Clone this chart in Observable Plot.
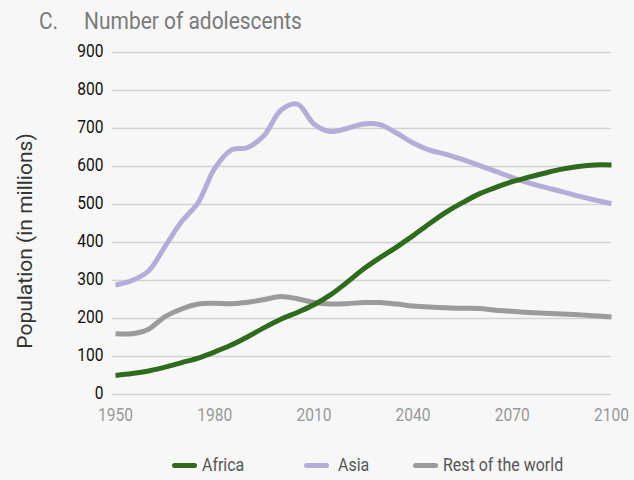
<!DOCTYPE html>
<html>
<head>
<meta charset="utf-8">
<script src="https://cdn.jsdelivr.net/npm/d3@7"></script>
<script src="https://cdn.jsdelivr.net/npm/@observablehq/plot@0.6"></script>
<style>
  html, body { margin: 0; padding: 0; background: #f7f7f7; }
  #wrap { position: relative; width: 634px; height: 480px; background: #f7f7f7; overflow: hidden; }
  .title { position: absolute; left: 39px; top: 10px; font-family: "Roboto", sans-serif; font-size: 23px; line-height: 23px; color: #7a7a7a; white-space: pre; transform: scaleX(0.91); transform-origin: 0 50%; }
  .ylabel { position: absolute; left: 25px; top: 241px; transform: translate(-50%, -50%) rotate(-90deg); font-family: "Roboto", sans-serif; font-size: 21px; color: #333; white-space: nowrap; }
  #chart { position: absolute; left: 0; top: 40px; }
  .leg { position: absolute; top: 454px; display: flex; align-items: center; font-family: "Roboto", sans-serif; font-size: 19px; color: #555; line-height: 22px; white-space: nowrap; }
  .leg span { display: inline-block; transform: scaleX(0.84); transform-origin: 0 50%; }
  .sw { width: 25px; height: 5px; border-radius: 3px; margin-right: 5px; flex: none; }
</style>
</head>
<body>
<div id="wrap">
  <div class="title">C.     Number of adolescents</div>
  <div class="ylabel">Population (in millions)</div>
  <div id="chart"></div>
  <div class="leg" style="left:172px"><div class="sw" style="background:#2f6b1c"></div><span>Africa</span></div>
  <div class="leg" style="left:304px"><div class="sw" style="background:#b3aed8;margin-right:9px"></div><span>Asia</span></div>
  <div class="leg" style="left:413px"><div class="sw" style="background:#9b9b9b"></div><span>Rest of the world</span></div>
</div>
<script>
const years = [1950,1955,1960,1965,1970,1975,1980,1985,1990,1995,2000,2005,2010,2015,2020,2025,2030,2035,2040,2045,2050,2055,2060,2065,2070,2075,2080,2085,2090,2095,2100];
const africa = [50,55,62,72,84,96,112,130,152,176,198,216,236,262,295,330,360,388,418,450,480,505,528,545,560,572,583,593,600,604,604];
const asia = [288,300,325,390,455,505,595,643,650,682,748,764,712,692,700,712,710,688,662,643,632,618,603,587,571,557,545,534,522,512,502];
const rest = [160,160,172,205,225,238,240,239,243,250,258,252,242,238,239,242,242,238,233,230,228,227,226,222,219,216,214,212,210,207,204];
const seriesNames = ["Rest of the world", "Asia", "Africa"];
const seriesValues = [rest, asia, africa];
const colors = {"Africa": "#2f6b1c", "Asia": "#b3aed8", "Rest of the world": "#9b9b9b"};
const xTicks = [1950,1980,2010,2040,2070,2100];
const yTicks = [0,100,200,300,400,500,600,700,800,900];

const rows = [];
seriesNames.forEach((name, i) => {
  years.forEach((yr, j) => rows.push({series: name, year: yr, value: seriesValues[i][j]}));
});

const chart = Plot.plot({
  width: 634,
  height: 395,
  marginLeft: 115,
  marginRight: 23,
  marginTop: 12,
  marginBottom: 41,
  style: {background: "transparent", fontFamily: "Roboto, sans-serif", fontSize: "19px"},
  x: {domain: [1950, 2100]},
  y: {domain: [0, 900]},
  marks: [
    Plot.gridY(yTicks, {stroke: "#d2d2d2", strokeOpacity: 1, strokeWidth: 1.6, x1: 1949, x2: 2100}),
    Plot.axisY(yTicks, {tickSize: 0, tickPadding: 12, label: null, fill: "#111", fontSize: 19, dy: -2}),
    Plot.axisX(xTicks, {tickSize: 0, tickPadding: 13, label: null, fill: "#999", fontSize: 19, tickFormat: d => String(d)}),
    Plot.line(rows, {x: "year", y: "value", z: "series", stroke: d => colors[d.series], strokeWidth: 5, curve: "catmull-rom", strokeLinecap: "butt"})
  ]
});
// condense axis tick labels horizontally to mimic the narrow typeface
d3.select(chart).selectAll('g[aria-label="y-axis tick label"] text, g[aria-label="x-axis tick label"] text').each(function() {
  const t = this.getAttribute("transform") || "";
  this.setAttribute("transform", t + " scale(0.82,1)");
});
document.getElementById("chart").appendChild(chart);
</script>
</body>
</html>
